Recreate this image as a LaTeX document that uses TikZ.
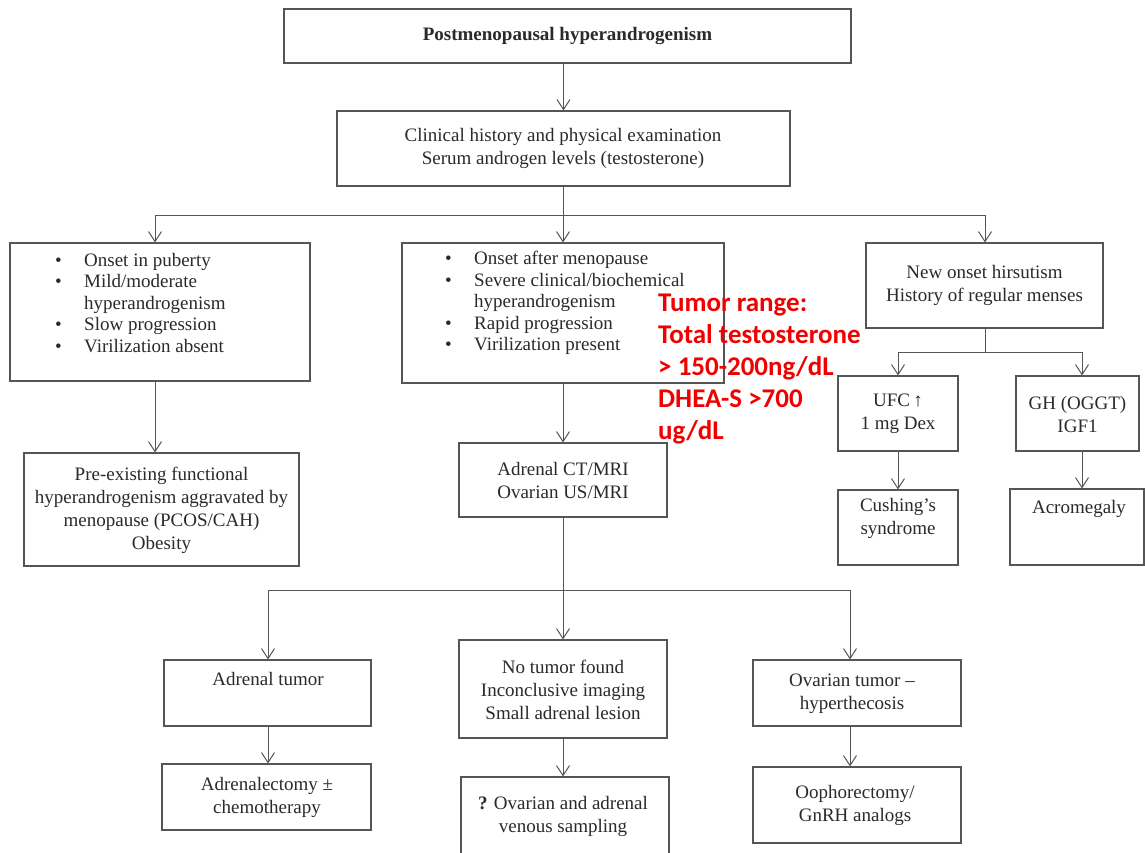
\documentclass[tikz,border=0pt]{standalone}
\usepackage{fontspec}
\setmainfont{Liberation Serif}
\newfontfamily\redfont{Carlito}
\usetikzlibrary{arrows.meta}
\definecolor{linec}{HTML}{555555}
\definecolor{textc}{HTML}{2A2A2A}
\definecolor{redc}{HTML}{F00000}
\begin{document}
\begin{tikzpicture}[x=1pt,y=-1pt,
  box/.style={draw=linec, line width=1.1pt, inner sep=0pt},
  txt/.style={font=\fontsize{19}{23}\selectfont, text=textc, align=center, inner sep=0pt},
  bul/.style={font=\fontsize{19}{21.5}\selectfont, text=textc, align=left, inner sep=0pt, anchor=west},
  ln/.style={draw=linec, line width=1pt},
  arr/.style={draw=linec, line width=1pt, -{Straight Barb[length=10pt,width=13pt,line width=1pt]}},
  redtxt/.style={font=\redfont\bfseries\fontsize{27}{32}\selectfont, text=redc, align=left, inner sep=0pt, anchor=north west}]
\clip (0,0) rectangle (1145,852);
\fill[white] (0,0) rectangle (1145,852);
\newcommand\bp{\makebox[29pt][l]{\textbullet}}
\newcommand\bq{\makebox[29pt][l]{}}
% boxes
\node[box, minimum width=567pt, minimum height=54pt] (top) at (567.5,36) {};
\node[box, minimum width=453pt, minimum height=75pt] (clin) at (563.5,148.5) {};
\node[box, minimum width=300pt, minimum height=138pt] (left) at (160,312) {};
\node[box, minimum width=322pt, minimum height=140pt] (mid) at (563,313) {};
\node[box, minimum width=237pt, minimum height=85pt] (right) at (984.5,285.5) {};
\node[box, minimum width=275pt, minimum height=113pt] (pre) at (161.5,509.5) {};
\node[box, minimum width=208pt, minimum height=74pt] (ct) at (563,480) {};
\node[box, minimum width=120pt, minimum height=75pt] (ufc) at (898,413.5) {};
\node[box, minimum width=123pt, minimum height=75pt] (gh) at (1077.5,413.5) {};
\node[box, minimum width=120pt, minimum height=75pt] (cush) at (898,527.5) {};
\node[box, minimum width=134pt, minimum height=76pt] (acro) at (1077,527) {};
\node[box, minimum width=207pt, minimum height=66pt] (adt) at (267.5,693) {};
\node[box, minimum width=208pt, minimum height=98pt] (not) at (563,689) {};
\node[box, minimum width=208pt, minimum height=66pt] (ovt) at (857,693) {};
\node[box, minimum width=209pt, minimum height=66pt] (adx) at (266.5,797) {};
\node[box, minimum width=208pt, minimum height=84pt] (ovs) at (565,819) {};
\node[box, minimum width=208pt, minimum height=76pt] (ooph) at (857,805) {};
% texts
\node[txt, font=\bfseries\fontsize{19}{23}\selectfont] (ttop) at (567.5,36) {Postmenopausal hyperandrogenism};
\node[txt] (tclin) at (563,148) {Clinical history and physical examination\\Serum androgen levels (testosterone)};
\node[bul] (tleft) at (55,303) {\bp Onset in puberty\\\bp Mild/moderate\\\bq hyperandrogenism\\\bp Slow progression\\\bp Virilization absent};
\node[bul] (tmid) at (445,303) {\bp Onset after menopause\\\bp Severe clinical/biochemical\\\bq hyperandrogenism\\\bp Rapid progression\\\bp Virilization present};
\node[txt] (tright) at (984.5,285.5) {New onset hirsutism\\History of regular menses};
\node[txt] (tpre) at (161.5,510) {Pre-existing functional\\hyperandrogenism aggravated by\\menopause (PCOS/CAH)\\Obesity};
\node[txt] (tct) at (563,480) {Adrenal CT/MRI\\Ovarian US/MRI};
\node[txt] (tufc) at (898,414) {UFC\,↑\\1 mg Dex};
\node[txt] (tgh) at (1077.5,414) {GH (OGGT)\\IGF1};
\node[txt] (tcush) at (898,518.5) {Cushing’s\\syndrome};
\node[txt] (tacro) at (1079,509) {Acromegaly};
\node[txt] (tadt) at (268,679) {Adrenal tumor};
\node[txt] (tnot) at (563,690) {No tumor found\\Inconclusive imaging\\Small adrenal lesion};
\node[txt] (tovt) at (852,694) {Ovarian tumor –\\hyperthecosis};
\node[txt] (tadx) at (267,797) {Adrenalectomy ±\\chemotherapy};
\node[txt] (tovs) at (563,816) {\textbf{?} Ovarian and adrenal\\venous sampling};
\node[txt] (tooph) at (855,805) {Oophorectomy/\\GnRH analogs};
\node[redtxt] (red) at (658,294) {Tumor range:\\Total testosterone\\> 150-200ng/dL\\DHEA-S >700\\ug/dL};
% connectors
\draw[arr] (top.south -| clin.north) -- (clin.north);
\coordinate (j1) at (563,215);
\coordinate (jL) at (155,215);
\coordinate (jR) at (985,215);
\draw[ln] (clin.south -| j1) -- (j1);
\draw[ln] (jL) -- (jR);
\draw[arr] (jL) -- (jL |- left.north);
\draw[arr] (j1) -- (j1 |- mid.north);
\draw[arr] (jR) -- (jR |- right.north);
\draw[arr] (jL |- left.south) -- (jL |- pre.north);
\draw[arr] (mid.south) -- (ct.north);
% right branch
\coordinate (k1) at (985,352);
\coordinate (kL) at (898,352);
\coordinate (kR) at (1082,352);
\draw[ln] (k1 |- right.south) -- (k1);
\draw[ln] (kL) -- (kR);
\draw[arr] (kL) -- (kL |- ufc.north);
\draw[arr] (kR) -- (kR |- gh.north);
\draw[arr] (ufc.south) -- (cush.north);
\draw[arr] (kR |- gh.south) -- (kR |- acro.north);
% bottom branch
\coordinate (m1) at (563,590);
\coordinate (mL) at (268,590);
\coordinate (mR) at (850,590);
\draw[ln] (ct.south) -- (m1);
\draw[ln] (mL) -- (mR);
\draw[arr] (mL) -- (mL |- adt.north);
\draw[arr] (m1) -- (not.north);
\draw[arr] (mR) -- (mR |- ovt.north);
\draw[arr] (mL |- adt.south) -- (mL |- adx.north);
\draw[arr] (not.south) -- (not.south |- ovs.north);
\draw[arr] (mR |- ovt.south) -- (mR |- ooph.north);
\end{tikzpicture}
\end{document}
